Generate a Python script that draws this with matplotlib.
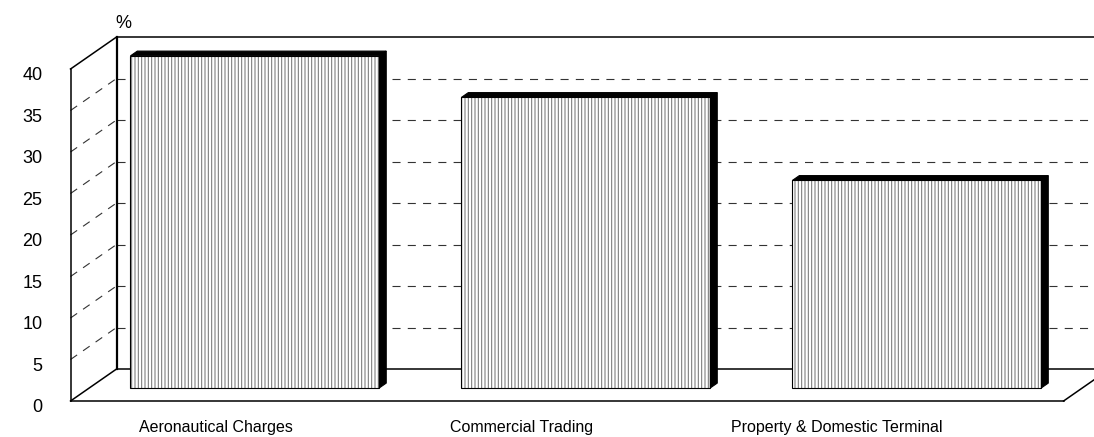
import matplotlib
matplotlib.use('Agg')
import matplotlib.pyplot as plt
from matplotlib.patches import Polygon

# %% data
categories = ['Aeronautical Charges', 'Commercial Trading', 'Property & Domestic Terminal']
values = [40, 35, 25]
y_ticks = [0, 5, 10, 15, 20, 25, 30, 35, 40]

# %% layout (3d box drawn by hand: x in category units, y in %)
DX, DY = 0.139, 3.855          # depth offset back wall -> front edge
X_LEFT, X_RIGHT = -0.5, 2.5
V_TOP = 40
HALF_W = 0.376
D_FRONT, D_BACK = 0.41, 0.56   # bar depth position (0 = front, 1 = back wall)
LABEL_SHIFT = [-0.2, -0.275, -0.323]

plt.rcParams['font.family'] = ['Liberation Sans', 'DejaVu Sans']
plt.rcParams['lines.scale_dashes'] = False
plt.rcParams['hatch.linewidth'] = 0.75


def proj(x, v, d):
    # d = 1 is the back wall, d = 0 the front edge
    return (x - (1 - d) * DX, v - (1 - d) * DY)


fig = plt.figure(figsize=(10.94, 4.37), dpi=100)
ax = fig.add_axes([0, 0, 1, 1])
ax.set_xlim(-0.852, 2.453)
ax.set_ylim(-8.19, 44.46)
ax.axis('off')


def line(p, q, **kw):
    ax.plot([p[0], q[0]], [p[1], q[1]], **kw)


box = dict(color='black', lw=1.1, solid_capstyle='projecting', zorder=2)
grid = dict(color='#333333', lw=0.8, dashes=(5.8, 5.2), zorder=1)

# gridlines on back wall and side wall
for v in y_ticks[1:-1]:
    line((X_LEFT, v), (X_RIGHT, v), **grid)
    line(proj(X_LEFT, v, 0), (X_LEFT, v), **grid)

# back wall
line((X_LEFT, V_TOP), (X_RIGHT, V_TOP), **box)
line((X_LEFT, 0), (X_LEFT, V_TOP), **dict(box, lw=1.6))
line((X_LEFT, 0), (X_RIGHT, 0), **box)
# side wall
line(proj(X_LEFT, 0, 0), proj(X_LEFT, V_TOP, 0), **box)
line(proj(X_LEFT, V_TOP, 0), (X_LEFT, V_TOP), **box)
# floor
line(proj(X_LEFT, 0, 0), (X_LEFT, 0), **box)
line(proj(X_LEFT, 0, 0), proj(X_RIGHT, 0, 0), **box)
line(proj(X_RIGHT, 0, 0), (X_RIGHT, 0), **box)

# bars
for i, val in enumerate(values):
    l, r = i - HALF_W, i + HALF_W
    front = [proj(l, 0, D_FRONT), proj(r, 0, D_FRONT), proj(r, val, D_FRONT), proj(l, val, D_FRONT)]
    top = [proj(l, val, D_FRONT), proj(r, val, D_FRONT), proj(r, val, D_BACK), proj(l, val, D_BACK)]
    side = [proj(r, 0, D_FRONT), proj(r, 0, D_BACK), proj(r, val, D_BACK), proj(r, val, D_FRONT)]
    ax.add_patch(Polygon(front, closed=True, facecolor='white', edgecolor='#777777',
                         hatch='|||||', lw=0, zorder=3))
    ax.add_patch(Polygon(front, closed=True, fill=False, edgecolor='black', lw=0.8, zorder=4))
    ax.add_patch(Polygon(top, closed=True, facecolor='black', edgecolor='black', lw=0.8, zorder=4))
    ax.add_patch(Polygon(side, closed=True, facecolor='black', edgecolor='black', lw=0.8, zorder=4))

# y tick labels on the front edge of the side wall
for v in y_ticks:
    x0, y0 = proj(X_LEFT, v, 0)
    ax.text(x0 - 0.085, y0 - 0.8, str(v), ha='right', va='center', fontsize=13)
ax.text(X_LEFT + 0.022, V_TOP + 1.6, '%', ha='center', va='center', fontsize=13)

# category labels
for i, name in enumerate(categories):
    ax.text(i + LABEL_SHIFT[i], -7.1, name, ha='center', va='center', fontsize=11.5)

plt.savefig('out.png', dpi=100)
